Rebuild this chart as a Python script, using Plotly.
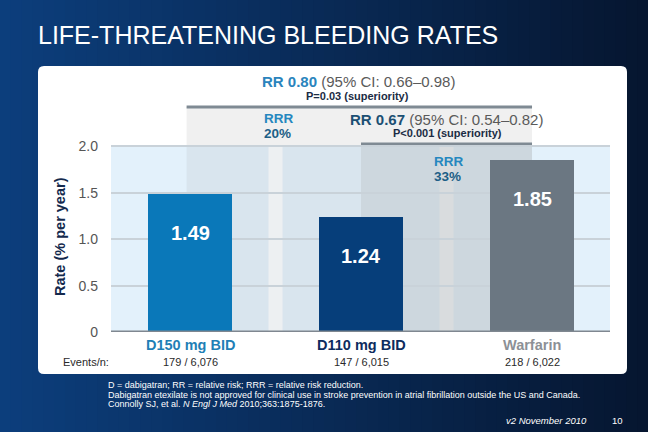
import plotly.graph_objects as go

# ---------------- data ----------------
categories = ["D150 mg BID", "D110 mg BID", "Warfarin"]
rates = [1.49, 1.24, 1.85]
events = ["179 / 6,076", "147 / 6,015", "218 / 6,022"]
y_ticks = [0, 0.5, 1.0, 1.5, 2.0]
y_tick_labels = ["0", "0.5", "1.0", "1.5", "2.0"]

bar_colors = ["#0a78b9", "#063e7a", "#6b7782"]
label_colors = ["#1f7fb6", "#0d2c5e", "#8c9096"]

W, H = 648, 432
ML, MR, MT, MB = 111, 38, 100, 100
PW, PH = W - ML - MR, H - MT - MB
FONT = "Arial, Liberation Sans, sans-serif"


def px(x):
    return (x - ML) / PW


def py(y):
    return (H - MB - y) / PH


fig = go.Figure()
xs = list(range(len(categories)))
fig.add_trace(go.Bar(x=xs, y=rates, width=0.49, marker=dict(color=bar_colors, line=dict(width=0)),
                     hoverinfo="skip", showlegend=False))

shapes = []
# background gradient
N = 60
c0 = (12, 62, 124)
c1 = (6, 22, 48)
for i in range(N):
    t = i / (N - 1)
    col = tuple(int(round(c0[k] + (c1[k] - c0[k]) * t)) for k in range(3))
    shapes.append(dict(type="rect", xref="paper", yref="paper",
                       x0=px(i * W / N), x1=px((i + 1) * W / N + 1), y0=py(H), y1=py(0),
                       fillcolor="rgb(%d,%d,%d)" % col, line=dict(width=0), layer="below"))

# white rounded panel
x0, x1, y0, y1, r = 38, 627, 66, 374, 6
path = (f"M {px(x0 + r)},{py(y0)} L {px(x1 - r)},{py(y0)} Q {px(x1)},{py(y0)} {px(x1)},{py(y0 + r)} "
        f"L {px(x1)},{py(y1 - r)} Q {px(x1)},{py(y1)} {px(x1 - r)},{py(y1)} "
        f"L {px(x0 + r)},{py(y1)} Q {px(x0)},{py(y1)} {px(x0)},{py(y1 - r)} "
        f"L {px(x0)},{py(y0 + r)} Q {px(x0)},{py(y0)} {px(x0 + r)},{py(y0)} Z")
shapes.append(dict(type="path", xref="paper", yref="paper", path=path,
                   fillcolor="white", line=dict(width=0), layer="below"))

# light blue plot background
shapes.append(dict(type="rect", xref="paper", yref="y", x0=0, x1=1, y0=0, y1=2.0,
                   fillcolor="#e3f1fb", line=dict(width=0), layer="below"))
# region 1 (D150 vs warfarin)
r1_top = 2.425
shapes.append(dict(type="rect", xref="x", yref="y", x0=-0.02, x1=2, y0=2.0, y1=r1_top,
                   fillcolor="#f0f0f0", line=dict(width=0), layer="below"))
shapes.append(dict(type="rect", xref="x", yref="y", x0=-0.02, x1=2, y0=0, y1=2.0,
                   fillcolor="#d9e5ee", line=dict(width=0), layer="below"))
shapes.append(dict(type="rect", xref="x", yref="y", x0=0.459, x1=0.541, y0=0, y1=2.0,
                   fillcolor="#edf0f2", line=dict(width=0), layer="below"))
# region 2 (D110 vs warfarin)
shapes.append(dict(type="rect", xref="x", yref="y", x0=1, x1=2, y0=0, y1=2.0,
                   fillcolor="#cdd7de", line=dict(width=0), layer="below"))
shapes.append(dict(type="rect", xref="x", yref="y", x0=1.459, x1=1.541, y0=0, y1=2.0,
                   fillcolor="#d9dcde", line=dict(width=0), layer="below"))
# bracket lines
shapes.append(dict(type="line", xref="x", yref="y", x0=-0.02, x1=2, y0=r1_top, y1=r1_top,
                   line=dict(color="#7f8a93", width=3), layer="below"))
shapes.append(dict(type="line", xref="x", yref="y", x0=1, x1=2, y0=2.026, y1=2.026,
                   line=dict(color="#7f8a93", width=3), layer="below"))
# baseline
shapes.append(dict(type="line", xref="paper", yref="y", x0=0, x1=1, y0=0, y1=0,
                   line=dict(color="#7f8790", width=3), layer="above"))

ann = []
# title
ann.append(dict(text="LIFE-THREATENING BLEEDING RATES", xref="paper", yref="paper", x=px(36), y=py(35),
                xanchor="left", yanchor="middle", showarrow=False,
                font=dict(family=FONT, size=25, color="white")))
# y title
ann.append(dict(text="<b>Rate (% per year)</b>", xref="paper", yref="paper", x=px(60), y=py(237),
                textangle=-90, showarrow=False, xanchor="center", yanchor="middle",
                font=dict(family=FONT, size=14.5, color="#14294d")))
# value labels
for i, v in enumerate(rates):
    ann.append(dict(text=f"<b>{v:.2f}</b>", x=i, y=v, xref="x", yref="y", yshift=-39,
                    showarrow=False, xanchor="center", yanchor="middle",
                    font=dict(family=FONT, size=20, color="white")))
# category labels and events
for i, c in enumerate(categories):
    ann.append(dict(text=f"<b>{c}</b>", x=i, y=py(345), xref="x", yref="paper", showarrow=False,
                    xanchor="center", yanchor="middle",
                    font=dict(family=FONT, size=14.5, color=label_colors[i])))
    ann.append(dict(text=events[i], x=i, y=py(362), xref="x", yref="paper", showarrow=False,
                    xanchor="center", yanchor="middle",
                    font=dict(family=FONT, size=11, color="#2a2a2a")))
ann.append(dict(text="Events/n:", x=px(61), y=py(362), xref="paper", yref="paper", showarrow=False,
                xanchor="left", yanchor="middle", font=dict(family=FONT, size=11, color="#2a2a2a")))

# comparison texts
ann.append(dict(text="<span style='color:#2a84bd'><b>RR 0.80</b></span> (95% CI: 0.66–0.98)",
                x=px(358), y=py(82), xref="paper", yref="paper", showarrow=False,
                xanchor="center", yanchor="middle", font=dict(family=FONT, size=15, color="#5a5a5a")))
ann.append(dict(text="<b>P=0.03 (superiority)</b>", x=px(357), y=py(95.5), xref="paper", yref="paper",
                showarrow=False, xanchor="center", yanchor="middle",
                font=dict(family=FONT, size=11, color="#1b2c44")))
ann.append(dict(text="<span style='color:#1b4f73'><b>RR 0.67</b></span> (95% CI: 0.54–0.82)",
                x=px(446), y=py(120), xref="paper", yref="paper", showarrow=False,
                xanchor="center", yanchor="middle", font=dict(family=FONT, size=15, color="#5a5a5a")))
ann.append(dict(text="<b>P<0.001 (superiority)</b>", x=px(447), y=py(133), xref="paper", yref="paper",
                showarrow=False, xanchor="center", yanchor="middle",
                font=dict(family=FONT, size=11, color="#1b2c44")))
for (xl, yt, pct) in [(262, 118, "20%"), (432, 161, "33%")]:
    ann.append(dict(text="<b>RRR</b>", x=px(xl), y=py(yt), xref="paper", yref="paper", showarrow=False,
                    xanchor="left", yanchor="middle", font=dict(family=FONT, size=13.5, color="#2587bf")))
    ann.append(dict(text=f"<b>{pct}</b>", x=px(xl), y=py(yt + 15), xref="paper", yref="paper",
                    showarrow=False, xanchor="left", yanchor="middle",
                    font=dict(family=FONT, size=13.5, color="#1d5f87")))

# footnotes
foot = ["D = dabigatran; RR = relative risk; RRR = relative risk reduction.",
        "Dabigatran etexilate is not approved for clinical use in stroke prevention in atrial fibrillation outside the US and Canada.",
        "Connolly SJ, et al. <i>N Engl J Med</i> 2010;363:1875-1876."]
for k, t in enumerate(foot):
    ann.append(dict(text=t, x=px(106), y=py(385 + 9.7 * k), xref="paper", yref="paper", showarrow=False,
                    xanchor="left", yanchor="middle", font=dict(family=FONT, size=9, color="white")))
ann.append(dict(text="<i>v2 November 2010</i>", x=px(589), y=py(420), xref="paper", yref="paper",
                showarrow=False, xanchor="right", yanchor="middle",
                font=dict(family=FONT, size=9.5, color="white")))
ann.append(dict(text="10", x=px(625), y=py(420), xref="paper", yref="paper",
                showarrow=False, xanchor="right", yanchor="middle",
                font=dict(family=FONT, size=9.5, color="white")))

fig.update_layout(
    width=W, height=H, margin=dict(l=ML, r=MR, t=MT, b=MB, pad=0),
    paper_bgcolor="#0a2c5e", plot_bgcolor="rgba(0,0,0,0)",
    shapes=shapes, annotations=ann, showlegend=False, bargap=0,
    xaxis=dict(range=[-0.462, 2.456], showgrid=False, zeroline=False, showticklabels=False,
               ticks="", fixedrange=True),
    yaxis=dict(range=[0, 2.5], tickvals=y_ticks, ticktext=y_tick_labels, showgrid=True,
               gridcolor="#c9d2d9", gridwidth=2, zeroline=False, ticks="", ticklabelstandoff=12,
               tickfont=dict(family=FONT, size=14, color="#555555"), fixedrange=True),
)
fig.write_html("out.html", config={"displayModeBar": False},
               post_script="document.body.style.margin='0';document.body.style.overflow='hidden';")
